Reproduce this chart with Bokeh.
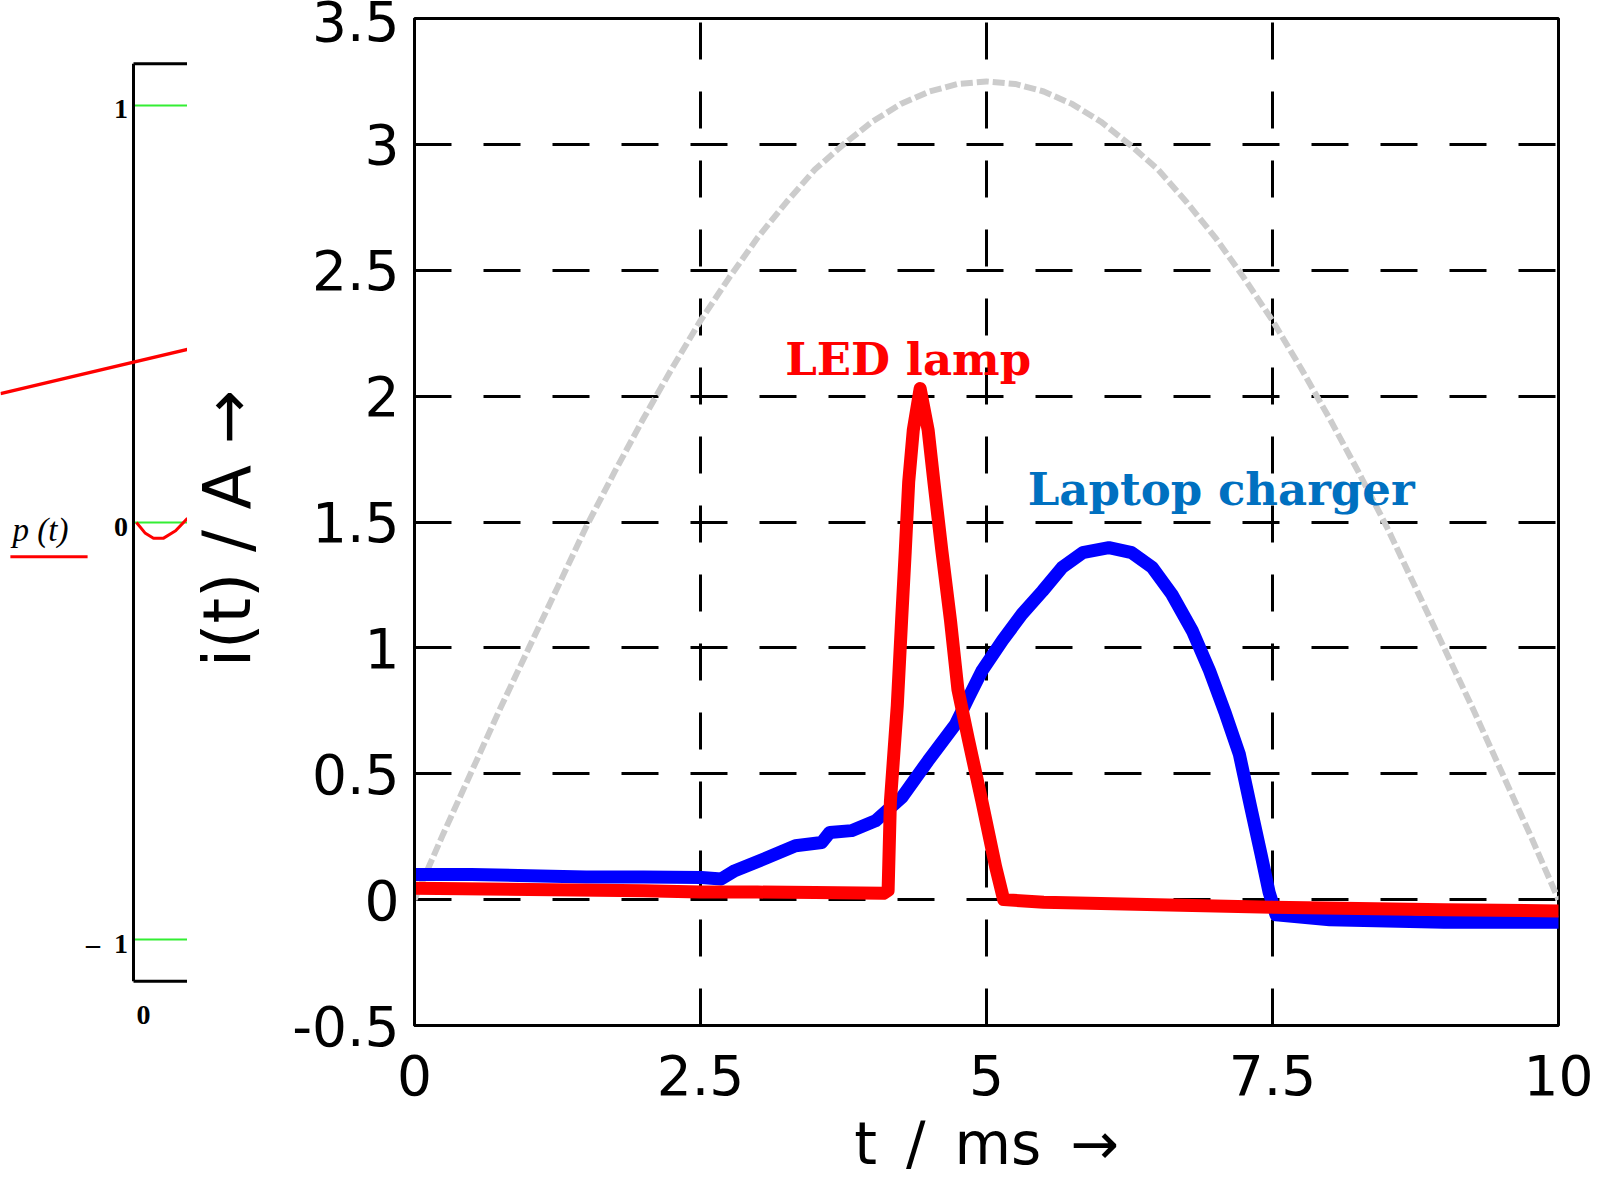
from bokeh.plotting import figure
from bokeh.models import Range1d, FixedTicker
from bokeh.layouts import row
from bokeh.embed import file_html
from bokeh.resources import INLINE
from bokeh.core.properties import value

# ---------------- data ----------------
# reference sine (supply voltage shape), grey dashed
t_sine = [0, 0.25, 0.5, 0.75, 1.0, 1.25, 1.5, 1.75, 2.0, 2.25, 2.5, 2.75, 3.0, 3.25,
          3.5, 3.75, 4.0, 4.25, 4.5, 4.75, 5.0, 5.25, 5.5, 5.75, 6.0, 6.25, 6.5, 6.75,
          7.0, 7.25, 7.5, 7.75, 8.0, 8.25, 8.5, 8.75, 9.0, 9.25, 9.5, 9.75, 10.0]
i_sine = [0.0, 0.26, 0.51, 0.76, 1.0, 1.24, 1.48, 1.70, 1.91, 2.11, 2.30, 2.47, 2.63, 2.77,
          2.90, 3.0, 3.09, 3.16, 3.21, 3.24, 3.25, 3.24, 3.21, 3.16, 3.09, 3.0, 2.90, 2.77,
          2.63, 2.47, 2.30, 2.11, 1.91, 1.70, 1.48, 1.24, 1.0, 0.76, 0.51, 0.26, 0.0]

# laptop charger current (blue)
t_laptop = [0.0, 0.5, 1.0, 1.5, 2.0, 2.51, 2.68, 2.80, 3.09, 3.33, 3.56, 3.63, 3.82, 4.03,
            4.26, 4.49, 4.73, 4.84, 4.96, 5.14, 5.31, 5.49, 5.66, 5.84, 6.07, 6.27, 6.45,
            6.62, 6.80, 6.95, 7.09, 7.21, 7.31, 7.40, 7.47, 7.53, 8.0, 8.5, 9.0, 9.5, 10.0]
i_laptop = [0.10, 0.10, 0.095, 0.09, 0.09, 0.088, 0.082, 0.115, 0.168, 0.214, 0.227, 0.267, 0.274, 0.313,
            0.406, 0.552, 0.697, 0.80, 0.909, 1.03, 1.134, 1.226, 1.319, 1.378, 1.398, 1.378, 1.319,
            1.213, 1.067, 0.909, 0.737, 0.578, 0.366, 0.18, 0.03, -0.06, -0.08, -0.085, -0.09, -0.09, -0.09]

# LED lamp current (red)
t_led = [0.0, 1.0, 2.0, 2.5, 3.0, 3.5, 4.1, 4.14, 4.16, 4.22, 4.258, 4.29, 4.32, 4.36,
         4.42, 4.49, 4.54, 4.61, 4.685, 4.75, 4.84, 4.96, 5.08, 5.15, 5.5, 6.5, 7.5, 9.0, 10.0]
i_led = [0.045, 0.04, 0.035, 0.03, 0.03, 0.028, 0.025, 0.036, 0.39, 0.77, 1.11, 1.385, 1.66, 1.865,
         2.03, 1.865, 1.66, 1.385, 1.11, 0.835, 0.64, 0.39, 0.13, 0.0, -0.01, -0.02, -0.03, -0.04, -0.045]

x_ticks = [0, 2.5, 5, 7.5, 10]
x_tick_labels = ["0", "2.5", "5", "7.5", "10"]
y_ticks = [-0.5, 0, 0.5, 1, 1.5, 2, 2.5, 3, 3.5]
y_tick_labels = ["-0.5", "0", "0.5", "1", "1.5", "2", "2.5", "3", "3.5"]

label_led = "LED lamp"
label_laptop = "Laptop charger"

# fragment of neighbouring Mathcad plot (left edge)
frag_ticks = [-1, 0, 1]
frag_tick_labels = ["\u2013\u20021", "0", "1"]
frag_t = [0.055, 0.22, 0.37, 0.55, 0.78, 1.0]
frag_p = [0.0, -0.026, -0.038, -0.038, -0.02, 0.01]

# ---------------- left fragment ----------------
fp = figure(width=187, height=1182, x_range=Range1d(-2.463, 1.0), y_range=Range1d(-1.2062, 1.2086),
            toolbar_location=None, output_backend="svg", min_border=0)
fp.xaxis.visible = False
fp.yaxis.visible = False
fp.grid.visible = False
fp.outline_line_color = None
fp.background_fill_color = "white"

# green level lines
fp.segment(x0=[0] * 3, x1=[1.0] * 3, y0=frag_ticks, y1=frag_ticks, line_color="#33ee33", line_width=2)
# axis box
fp.segment(x0=[0, 0, 0], x1=[0, 1.0, 1.0], y0=[-1.1, 1.1, -1.1], y1=[1.1, 1.1, -1.1],
           line_color="black", line_width=3)
# tick labels
fp.text(x=[-0.1] * 3, y=frag_ticks, text=frag_tick_labels, text_align="right", text_baseline="middle",
        y_offset=4, text_font=value("Liberation Serif"), text_font_style="bold", text_font_size="28px",
        text_color="black")
fp.text(x=[0.185], y=[-1.18], text=["0"], text_align="center", text_baseline="middle",
        text_font=value("Liberation Serif"), text_font_style="bold", text_font_size="28px", text_color="black")
# red trace dip
fp.line(frag_t, frag_p, line_color="red", line_width=3)
# red diagonal line
fp.line([-2.463, 1.0], [0.309, 0.415], line_color="red", line_width=3.5)
# legend p(t)
fp.text(x=[-2.24], y=[-0.019], text=["p (t)"], text_align="left", text_baseline="alphabetic",
        text_font=value("Liberation Serif"), text_font_style="italic", text_font_size="33px", text_color="black")
fp.line([-2.28, -0.85], [-0.082, -0.082], line_color="red", line_width=3)

# ---------------- main plot ----------------
p = figure(width=1413, height=1182, x_range=Range1d(0, 10), y_range=Range1d(-0.5, 3.5),
           toolbar_location=None, output_backend="svg",
           min_border_left=226, min_border_right=42, min_border_top=18, min_border_bottom=157)
p.background_fill_color = "white"
p.border_fill_color = "white"
p.outline_line_color = "black"
p.outline_line_width = 3

p.xaxis.ticker = FixedTicker(ticks=x_ticks)
p.yaxis.ticker = FixedTicker(ticks=y_ticks)
p.xaxis.major_label_overrides = {t: l for t, l in zip(x_ticks, x_tick_labels)}
p.yaxis.major_label_overrides = {t: l for t, l in zip(y_ticks, y_tick_labels)}

for ax in (p.xaxis, p.yaxis):
    ax.axis_line_color = "black"
    ax.axis_line_width = 3
    ax.major_tick_out = 0
    ax.major_tick_in = 0
    ax.minor_tick_line_color = None
    ax.major_label_text_font = "DejaVu Sans"
    ax.major_label_text_font_size = "55px"
    ax.major_label_text_color = "black"
    ax.axis_label_text_font = "DejaVu Sans"
    ax.axis_label_text_font_style = "normal"
    ax.axis_label_text_color = "black"

p.yaxis.major_label_standoff = 15
p.xaxis.major_label_standoff = 29
p.xaxis.axis_label = "t\u2002/\u2002ms\u2002\u2192"
p.yaxis.axis_label = "i(t) / A \u2192\u2009"
p.xaxis.axis_label_text_font_size = "58px"
p.yaxis.axis_label_text_font_size = "65px"
p.xaxis.axis_label_standoff = 12
p.yaxis.axis_label_standoff = 24

p.grid.grid_line_color = "black"
p.grid.grid_line_width = 3
p.grid.grid_line_dash = "37 32"

p.line(t_sine, i_sine, line_color="#cccccc", line_width=6, line_dash="12 4")
p.line(t_laptop, i_laptop, line_color="#0000ff", line_width=13, line_join="round", line_cap="round")
p.line(t_led, i_led, line_color="#ff0000", line_width=13, line_join="round", line_cap="round")

p.text(x=[3.24], y=[2.145], text=[label_led], text_align="left", text_baseline="alphabetic",
       text_font=value("DejaVu Serif"), text_font_style="bold", text_font_size="45px", text_color="#ff0000")
p.text(x=[5.36], y=[1.63], text=[label_laptop], text_align="left", text_baseline="alphabetic",
       text_font=value("DejaVu Serif"), text_font_style="bold", text_font_size="45px", text_color="#0070c0")

layout = row(fp, p)
open("out.html", "w").write(file_html(layout, INLINE))
